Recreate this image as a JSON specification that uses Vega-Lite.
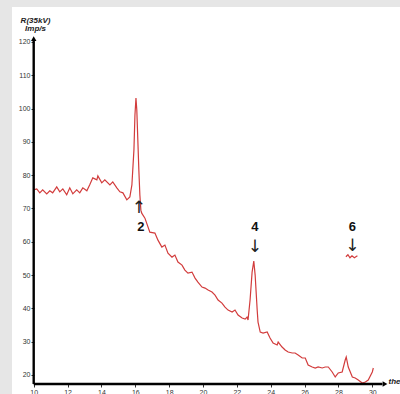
{
  "$schema": "https://vega.github.io/schema/vega-lite/v6.json",
  "width": 388,
  "height": 387,
  "autosize": {"type": "none"},
  "padding": {"left": 12, "top": 7, "right": 0, "bottom": 0},
  "background": "#e6e6e6",
  "config": {"view": {"fill": "white", "stroke": null}, "font": "Liberation Sans"},
  "encoding": {
    "x": {
      "field": "x", "type": "quantitative",
      "scale": {"domain": [8.718, 31.636], "nice": false, "zero": false},
      "axis": {
        "values": [10, 12, 14, 16, 18, 20, 22, 24, 26, 28, 30],
        "domain": false, "grid": false, "offset": -10,
        "tickSize": 3, "tickColor": "#333", "tickWidth": 1,
        "labelFontSize": 7, "labelColor": "#333", "labelPadding": 1, "labelFlush": false, "labelOverlap": false,
        "title": "theta", "titleX": 376, "titleY": -1, "titleAlign": "left",
        "titleBaseline": "alphabetic", "titleFontSize": 8, "titleFontStyle": "italic",
        "titleFontWeight": "bold", "titleColor": "#222"
      }
    },
    "y": {
      "field": "y", "type": "quantitative",
      "scale": {"domain": [14.29, 130.51], "nice": false, "zero": false},
      "axis": {
        "values": [20, 30, 40, 50, 60, 70, 80, 90, 100, 110, 120],
        "domain": false, "grid": false, "offset": -22,
        "tickSize": 3, "tickColor": "#333", "tickWidth": 1,
        "labelFontSize": 7, "labelColor": "#333", "labelPadding": 1, "labelFlush": false, "labelOverlap": false,
        "title": ["R(35kV)", "Imp/s"], "titleAngle": 0, "titleX": 1, "titleY": 15,
        "titleAlign": "center", "titleBaseline": "alphabetic", "titleFontSize": 8,
        "titleFontStyle": "italic", "titleFontWeight": "bold", "titleLineHeight": 8,
        "titleColor": "#222"
      }
    }
  },
  "layer": [
    {
      "data": {"values": [
        {"x": 10.00, "y": 75.6, "s": "main"},
        {"x": 10.18, "y": 75.9, "s": "main"},
        {"x": 10.36, "y": 74.7, "s": "main"},
        {"x": 10.53, "y": 75.6, "s": "main"},
        {"x": 10.77, "y": 74.4, "s": "main"},
        {"x": 10.95, "y": 75.3, "s": "main"},
        {"x": 11.12, "y": 74.7, "s": "main"},
        {"x": 11.36, "y": 76.5, "s": "main"},
        {"x": 11.54, "y": 75.0, "s": "main"},
        {"x": 11.72, "y": 75.9, "s": "main"},
        {"x": 11.95, "y": 74.1, "s": "main"},
        {"x": 12.13, "y": 76.2, "s": "main"},
        {"x": 12.31, "y": 74.4, "s": "main"},
        {"x": 12.54, "y": 75.6, "s": "main"},
        {"x": 12.72, "y": 74.7, "s": "main"},
        {"x": 12.90, "y": 76.2, "s": "main"},
        {"x": 13.14, "y": 75.3, "s": "main"},
        {"x": 13.31, "y": 77.1, "s": "main"},
        {"x": 13.49, "y": 79.2, "s": "main"},
        {"x": 13.73, "y": 78.6, "s": "main"},
        {"x": 13.79, "y": 79.8, "s": "main"},
        {"x": 14.02, "y": 77.7, "s": "main"},
        {"x": 14.20, "y": 78.6, "s": "main"},
        {"x": 14.50, "y": 77.1, "s": "main"},
        {"x": 14.67, "y": 78.0, "s": "main"},
        {"x": 14.91, "y": 76.2, "s": "main"},
        {"x": 15.09, "y": 75.0, "s": "main"},
        {"x": 15.27, "y": 74.7, "s": "main"},
        {"x": 15.50, "y": 72.6, "s": "main"},
        {"x": 15.68, "y": 73.5, "s": "main"},
        {"x": 15.80, "y": 77.1, "s": "main"},
        {"x": 15.92, "y": 87.6, "s": "main"},
        {"x": 15.98, "y": 98.1, "s": "main"},
        {"x": 16.04, "y": 103.2, "s": "main"},
        {"x": 16.09, "y": 99.6, "s": "main"},
        {"x": 16.15, "y": 90.6, "s": "main"},
        {"x": 16.21, "y": 81.6, "s": "main"},
        {"x": 16.27, "y": 74.1, "s": "main"},
        {"x": 16.33, "y": 69.5, "s": "main"},
        {"x": 16.38, "y": 68.6, "s": "main"},
        {"x": 16.57, "y": 67.1, "s": "main"},
        {"x": 16.86, "y": 62.9, "s": "main"},
        {"x": 17.16, "y": 62.6, "s": "main"},
        {"x": 17.34, "y": 60.5, "s": "main"},
        {"x": 17.57, "y": 58.4, "s": "main"},
        {"x": 17.75, "y": 59.0, "s": "main"},
        {"x": 17.93, "y": 56.6, "s": "main"},
        {"x": 18.17, "y": 55.4, "s": "main"},
        {"x": 18.34, "y": 56.0, "s": "main"},
        {"x": 18.52, "y": 53.9, "s": "main"},
        {"x": 18.76, "y": 53.0, "s": "main"},
        {"x": 18.93, "y": 51.5, "s": "main"},
        {"x": 19.11, "y": 50.6, "s": "main"},
        {"x": 19.35, "y": 50.9, "s": "main"},
        {"x": 19.53, "y": 49.1, "s": "main"},
        {"x": 19.70, "y": 47.9, "s": "main"},
        {"x": 19.94, "y": 46.4, "s": "main"},
        {"x": 20.12, "y": 46.1, "s": "main"},
        {"x": 20.30, "y": 45.5, "s": "main"},
        {"x": 20.53, "y": 44.9, "s": "main"},
        {"x": 20.71, "y": 44.0, "s": "main"},
        {"x": 20.89, "y": 42.5, "s": "main"},
        {"x": 21.12, "y": 41.6, "s": "main"},
        {"x": 21.30, "y": 40.4, "s": "main"},
        {"x": 21.48, "y": 39.5, "s": "main"},
        {"x": 21.72, "y": 38.9, "s": "main"},
        {"x": 21.89, "y": 39.5, "s": "main"},
        {"x": 22.07, "y": 38.0, "s": "main"},
        {"x": 22.31, "y": 37.1, "s": "main"},
        {"x": 22.49, "y": 36.8, "s": "main"},
        {"x": 22.60, "y": 37.4, "s": "main"},
        {"x": 22.66, "y": 36.5, "s": "main"},
        {"x": 22.78, "y": 42.5, "s": "main"},
        {"x": 22.90, "y": 50.9, "s": "main"},
        {"x": 23.00, "y": 54.2, "s": "main"},
        {"x": 23.08, "y": 50.0, "s": "main"},
        {"x": 23.20, "y": 39.5, "s": "main"},
        {"x": 23.25, "y": 35.9, "s": "main"},
        {"x": 23.38, "y": 32.9, "s": "main"},
        {"x": 23.55, "y": 32.6, "s": "main"},
        {"x": 23.79, "y": 32.9, "s": "main"},
        {"x": 23.96, "y": 31.1, "s": "main"},
        {"x": 24.14, "y": 29.6, "s": "main"},
        {"x": 24.38, "y": 29.0, "s": "main"},
        {"x": 24.44, "y": 29.9, "s": "main"},
        {"x": 24.67, "y": 28.4, "s": "main"},
        {"x": 24.85, "y": 27.5, "s": "main"},
        {"x": 25.03, "y": 26.9, "s": "main"},
        {"x": 25.27, "y": 26.6, "s": "main"},
        {"x": 25.44, "y": 26.6, "s": "main"},
        {"x": 25.62, "y": 26.0, "s": "main"},
        {"x": 25.86, "y": 25.1, "s": "main"},
        {"x": 26.04, "y": 25.1, "s": "main"},
        {"x": 26.21, "y": 23.0, "s": "main"},
        {"x": 26.45, "y": 22.4, "s": "main"},
        {"x": 26.63, "y": 22.1, "s": "main"},
        {"x": 26.80, "y": 22.4, "s": "main"},
        {"x": 27.04, "y": 22.1, "s": "main"},
        {"x": 27.22, "y": 22.4, "s": "main"},
        {"x": 27.40, "y": 22.4, "s": "main"},
        {"x": 27.63, "y": 20.9, "s": "main"},
        {"x": 27.81, "y": 19.4, "s": "main"},
        {"x": 27.99, "y": 20.6, "s": "main"},
        {"x": 28.22, "y": 20.9, "s": "main"},
        {"x": 28.40, "y": 24.5, "s": "main"},
        {"x": 28.46, "y": 25.4, "s": "main"},
        {"x": 28.58, "y": 22.4, "s": "main"},
        {"x": 28.82, "y": 19.4, "s": "main"},
        {"x": 28.99, "y": 19.1, "s": "main"},
        {"x": 29.17, "y": 18.5, "s": "main"},
        {"x": 29.41, "y": 17.6, "s": "main"},
        {"x": 29.59, "y": 17.9, "s": "main"},
        {"x": 29.76, "y": 18.5, "s": "main"},
        {"x": 30.00, "y": 20.9, "s": "main"},
        {"x": 30.06, "y": 22.1, "s": "main"},
        {"x": 28.44, "y": 55.5, "s": "p6"},
        {"x": 28.56, "y": 56.1, "s": "p6"},
        {"x": 28.68, "y": 55.2, "s": "p6"},
        {"x": 28.80, "y": 55.8, "s": "p6"},
        {"x": 28.94, "y": 55.2, "s": "p6"},
        {"x": 29.12, "y": 55.8, "s": "p6"}
      ]},
      "mark": {"type": "line", "color": "#d23c3c", "strokeWidth": 1.2},
      "encoding": {"detail": {"field": "s"}}
    },
    {
      "data": {"values": [
        {"x": 10, "y": 17.3, "x2": 10, "y2": 120.5},
        {"x": 10, "y": 17.3, "x2": 30.6, "y2": 17.3}
      ]},
      "mark": {"type": "rule", "color": "#000", "strokeWidth": 2.4},
      "encoding": {"x2": {"field": "x2"}, "y2": {"field": "y2"}}
    },
    {
      "data": {"values": [{"x": 10, "y": 121.0}]},
      "mark": {"type": "point", "shape": "triangle-up", "filled": true, "color": "#000", "size": 30, "opacity": 1},
      "encoding": {}
    },
    {
      "data": {"values": [{"x": 30.75, "y": 17.3}]},
      "mark": {"type": "point", "shape": "triangle-right", "filled": true, "color": "#000", "size": 30, "opacity": 1},
      "encoding": {}
    },
    {
      "data": {"values": [
        {"x": 16.33, "y": 64.4, "t": "2"},
        {"x": 23.07, "y": 64.4, "t": "4"},
        {"x": 28.82, "y": 64.4, "t": "6"}
      ]},
      "mark": {"type": "text", "fontSize": 13, "fontWeight": "bold", "color": "#111", "baseline": "middle", "align": "center"},
      "encoding": {"text": {"field": "t"}}
    },
    {
      "data": {"values": [
        {"x": 16.21, "y": 70.1, "t": "↑"},
        {"x": 23.07, "y": 58.4, "t": "↓"},
        {"x": 28.82, "y": 58.7, "t": "↓"}
      ]},
      "mark": {"type": "text", "fontSize": 17, "font": "DejaVu Sans", "color": "#222", "baseline": "middle", "align": "center"},
      "encoding": {"text": {"field": "t"}}
    }
  ]
}
